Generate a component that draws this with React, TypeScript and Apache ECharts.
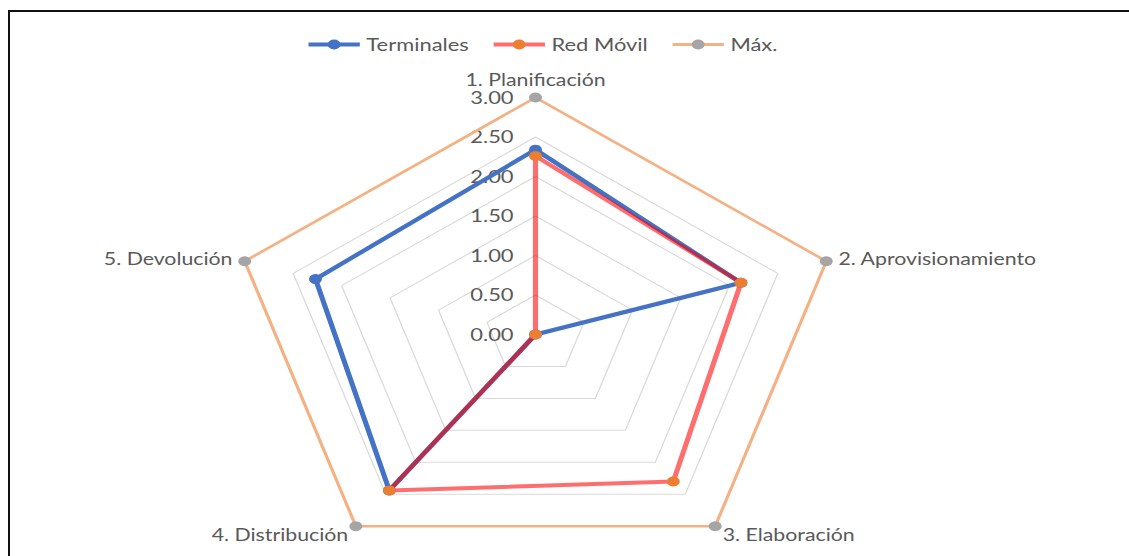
import React, { useEffect, useRef } from "react";
import * as echarts from "echarts";

// ---- data ----
const indicatorNames = [
  "1. Planificación",
  "2. Aprovisionamiento",
  "3. Elaboración",
  "4. Distribución",
  "5. Devolución",
];
const axisMax = 3;
const axisSplits = 6;
const terminales = [2.34, 2.12, 0, 2.44, 2.27];
const redMovil = [2.26, 2.12, 2.3, 2.44, 0];
const maximo = [3, 3, 3, 3, 3];
const seriesNames = ["Terminales", "Red Móvil", "Máx."];

// ---- layout / style ----
const W = 1129;
const H = 556;
const SX = 1.29; // the original picture is stretched horizontally
const FONT = "Lato, 'Open Sans', sans-serif";
const TEXT = "#595959";

const lineColors = ["#4472C4", "rgba(255,0,0,0.57)", "#F4B183"];
const dotColors = ["#4472C4", "#ED7D31", "#A5A5A5"];
const lineWidths = [4, 4, 2.5];

// ECharts lays radar axes out counter-clockwise; the reference goes clockwise.
const order = [0, 4, 3, 2, 1];
const clockwise = <T,>(arr: T[]) => order.map((i) => arr[i]);

const legendIcon = (line: string, dot: string, w: number) =>
  "image://data:image/svg+xml;utf8," +
  encodeURIComponent(
    `<svg xmlns="http://www.w3.org/2000/svg" width="40" height="12" viewBox="0 0 40 12"><line x1="0" y1="6" x2="40" y2="6" stroke="${line}" stroke-width="${w}"/><circle cx="20" cy="6" r="5" fill="${dot}"/></svg>`
  );

export default function App() {
  const ref = useRef<HTMLDivElement>(null);

  useEffect(() => {
    if (!ref.current) return;
    const chart = echarts.init(ref.current, undefined, { renderer: "svg" });
    const values = [terminales, redMovil, maximo];
    chart.setOption({
      animation: false,
      backgroundColor: "transparent",
      textStyle: { fontFamily: FONT },
      legend: {
        left: 239,
        top: 36,
        padding: 0,
        itemWidth: 40,
        itemHeight: 12,
        itemGap: 19,
        textStyle: { color: TEXT, fontSize: 17, fontFamily: FONT },
        data: seriesNames.map((name, i) => ({
          name,
          icon: legendIcon(
            i === 1 ? "#FF6E6E" : lineColors[i],
            dotColors[i],
            i === 2 ? 3 : 4
          ),
        })),
      },
      radar: {
        center: [535.5 / SX, 334.5],
        radius: 237,
        startAngle: 90,
        splitNumber: axisSplits,
        shape: "polygon",
        nameGap: 10,
        indicator: clockwise(indicatorNames).map((name, i) => {
          const o: any = { name, min: 0, max: axisMax };
          if (i !== 0) o.axisLabel = { show: false };
          return o;
        }),
        axisName: { color: TEXT, fontSize: 16.5, fontFamily: FONT },
        axisLine: { show: false },
        axisTick: { show: false },
        splitArea: { show: false },
        splitLine: { lineStyle: { color: "#D9D9D9", width: 1 } },
        axisLabel: {
          show: true,
          color: TEXT,
          fontSize: 17,
          fontFamily: FONT,
          margin: 17,
          formatter: (v: number) => v.toFixed(2),
        },
      },
      series: [
        {
          type: "radar",
          symbol: "circle",
          symbolSize: 10,
          data: seriesNames.map((name, i) => ({
            name,
            value: clockwise(values[i]),
            lineStyle: { color: lineColors[i], width: lineWidths[i] },
            itemStyle: { color: dotColors[i] },
          })),
        },
      ],
    });
    return () => chart.dispose();
  }, []);

  return (
    <div
      style={{
        position: "fixed",
        left: 0,
        top: 0,
        width: W,
        height: H,
        background: "#fff",
        overflow: "hidden",
      }}
    >
      <div
        style={{
          position: "absolute",
          left: 8,
          top: 10,
          width: W + 20,
          height: H + 20,
          border: "2px solid #111",
          boxSizing: "border-box",
        }}
      />
      <div
        ref={ref}
        style={{
          position: "absolute",
          left: 0,
          top: 0,
          width: W / SX,
          height: H,
          transform: `scaleX(${SX})`,
          transformOrigin: "left top",
        }}
      />
    </div>
  );
}
